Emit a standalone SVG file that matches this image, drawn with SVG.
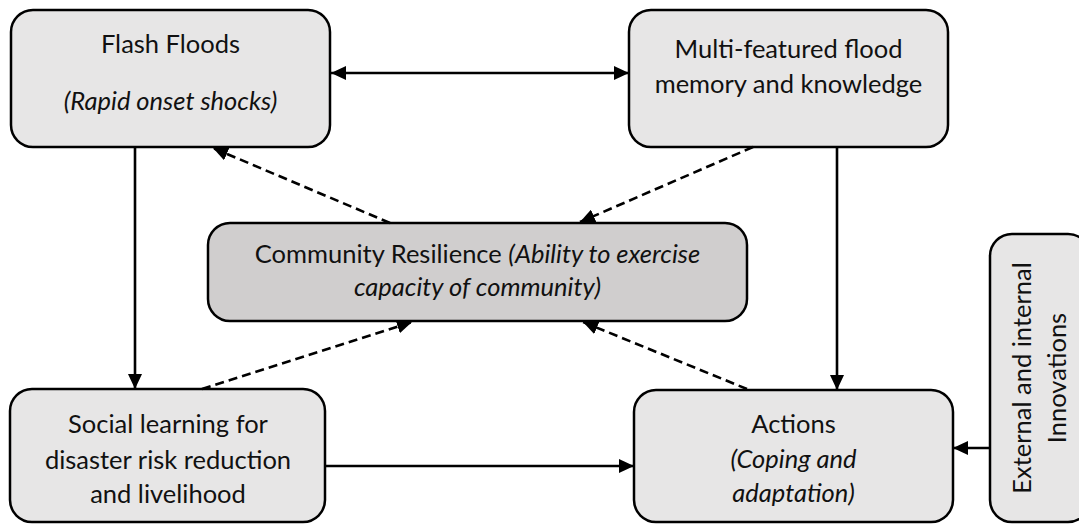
<svg xmlns="http://www.w3.org/2000/svg" width="1079" height="525" viewBox="0 0 1079 525">
  <style>
    .box { fill: #e7e6e6; stroke: #000; stroke-width: 2.5; }
    .core { fill: #d0cece; stroke: #000; stroke-width: 2.5; }
    .lbl { font-family: Lato, "Liberation Sans", sans-serif; font-size: 25.5px; fill: #111; text-anchor: middle; }
    .it { font-style: italic; }
    .solid { fill: none; stroke: #000; stroke-width: 2.6; }
    .dash { fill: none; stroke: #000; stroke-width: 2.6; stroke-dasharray: 9 5; }
  </style>
  <defs>
    <marker id="head" markerUnits="userSpaceOnUse" markerWidth="16" markerHeight="14" refX="15" refY="7" orient="auto-start-reverse">
      <path d="M0,0 L15,7 L0,14 z" fill="#000"/>
    </marker>
  </defs>

  <!-- nodes -->
  <g id="flash-floods">
    <rect class="box" x="11" y="10" width="319" height="137" rx="22"/>
    <text class="lbl" x="170.5" y="53">Flash Floods</text>
    <text class="lbl it" x="170.5" y="110">(Rapid onset shocks)</text>
  </g>

  <g id="flood-memory">
    <rect class="box" x="629" y="10" width="319" height="137" rx="22"/>
    <text class="lbl" x="788.5" y="58">Multi-featured flood</text>
    <text class="lbl" x="788.5" y="93">memory and knowledge</text>
  </g>

  <g id="community-resilience">
    <rect class="core" x="208" y="223" width="539" height="98" rx="22"/>
    <text class="lbl" x="477.5" y="263">Community Resilience <tspan class="it">(Ability to exercise</tspan></text>
    <text class="lbl it" x="477.5" y="296">capacity of community)</text>
  </g>

  <g id="social-learning">
    <rect class="box" x="10" y="389" width="315" height="133" rx="22"/>
    <text class="lbl" x="168" y="433">Social learning for</text>
    <text class="lbl" x="168" y="469">disaster risk reduction</text>
    <text class="lbl" x="168" y="503">and livelihood</text>
  </g>

  <g id="actions">
    <rect class="box" x="634" y="390" width="319" height="132" rx="22"/>
    <text class="lbl" x="793.5" y="433">Actions</text>
    <text class="lbl it" x="793.5" y="468">(Coping and</text>
    <text class="lbl it" x="793.5" y="502">adaptation)</text>
  </g>

  <g id="innovations">
    <rect class="box" x="990" y="234" width="100" height="288" rx="22"/>
    <text class="lbl" transform="translate(1031 378) rotate(-90)">External and internal</text>
    <text class="lbl" transform="translate(1066 378) rotate(-90)">Innovations</text>
  </g>

  <!-- connectors -->
  <g id="connectors">
    <path class="solid" d="M331,73 L629,73" marker-start="url(#head)" marker-end="url(#head)"/>
    <path class="solid" d="M135,147 L135,389" marker-end="url(#head)"/>
    <path class="solid" d="M837,147 L837,390" marker-end="url(#head)"/>
    <path class="solid" d="M325,466 L634,466" marker-end="url(#head)"/>
    <path class="solid" d="M990,448 L953,448" marker-end="url(#head)"/>
    <path class="dash" d="M390,223 L213,148" marker-end="url(#head)"/>
    <path class="dash" d="M753,147 L580,222" marker-end="url(#head)"/>
    <path class="dash" d="M202,389 L412,322" marker-end="url(#head)"/>
    <path class="dash" d="M747,389 L583,322" marker-end="url(#head)"/>
  </g>
</svg>
